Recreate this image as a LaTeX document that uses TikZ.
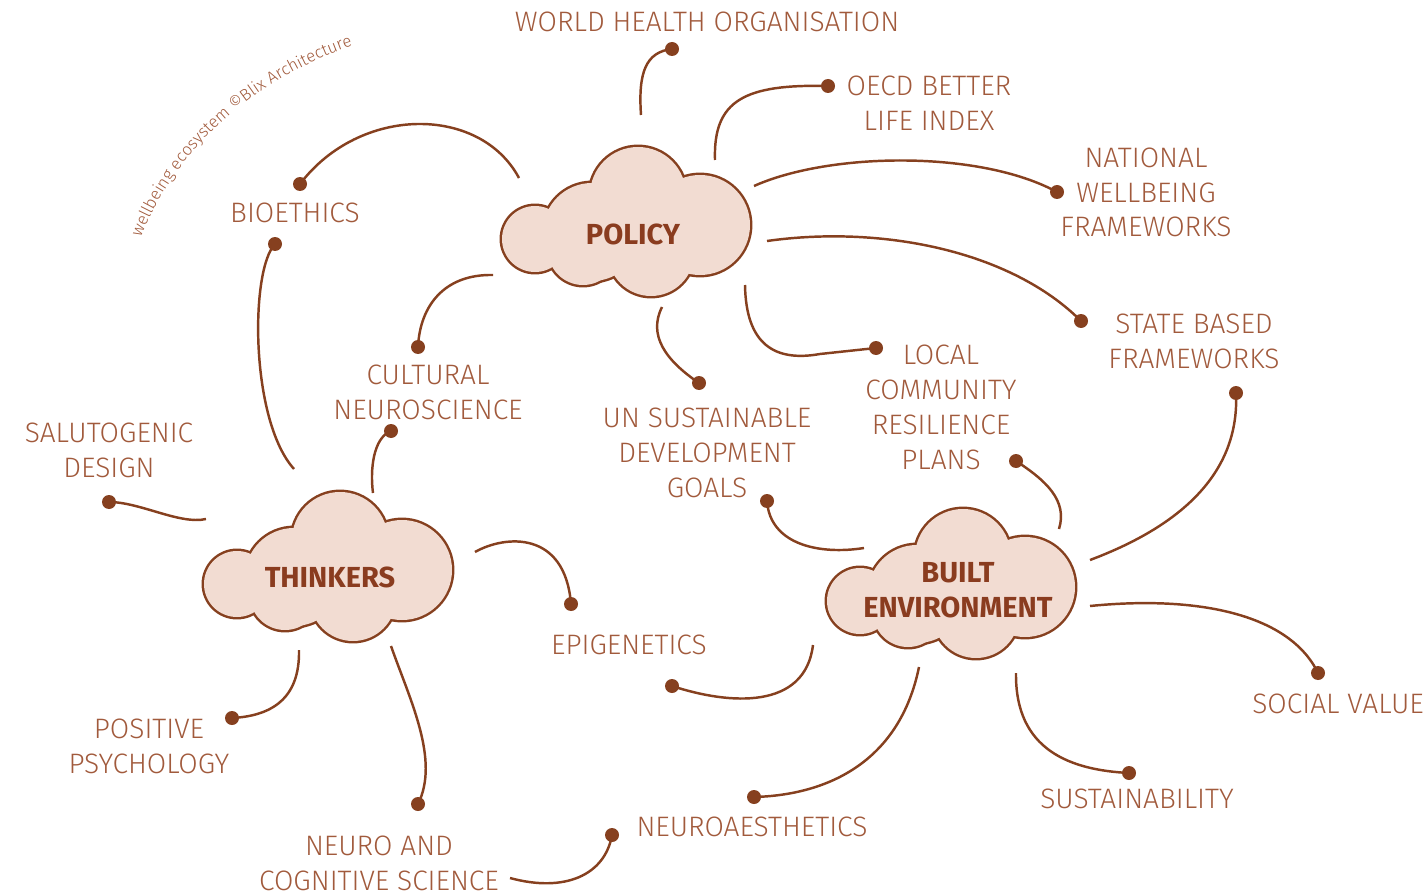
\documentclass[tikz,border=0pt]{standalone}
\usepackage{fontspec}
\usetikzlibrary{decorations.text}
\IfFontExistsTF{Fira Sans Light}{\setmainfont{Fira Sans Light}}{\setmainfont{Fira Sans}[FakeStretch=0.9]}
\newfontfamily\headfont{Fira Sans}
\definecolor{ink}{HTML}{86401F}
\definecolor{txt}{HTML}{A15A3C}
\definecolor{headc}{HTML}{8A3C1F}
\definecolor{cloudfill}{HTML}{F2DCD2}
\tikzset{
  cloud/.pic={
    \foreach \cx/\cy/\r in {33/92/33, 90/85/49, 136/48/48, 198/78/50, 149/106/43, 81/103/35}
      \draw[ink, line width=2.8pt] (\cx,\cy) circle[radius=\r];
    \foreach \cx/\cy/\r in {33/92/33, 90/85/49, 136/48/48, 198/78/50, 149/106/43, 81/103/35}
      \fill[cloudfill] (\cx,\cy) circle[radius=\r];
    \fill[cloudfill] (40,85) rectangle (200,120);
  }
}
\begin{document}
\begin{tikzpicture}[x=0.02cm, y=-0.02cm,
  conn/.style={draw=ink, line width=1.4pt},
  dot/.style={circle, fill=ink, inner sep=0pt, minimum size=0.28cm},
  lbl/.style={text=txt, font=\fontsize{16}{19.8}\selectfont, align=center, inner sep=0pt},
  headlbl/.style={text=headc, font=\headfont\bfseries\fontsize{16.5}{19.8}\selectfont, align=center, inner sep=0pt}]
\useasboundingbox (0,0) rectangle (1426,895);

% clouds
\pic at (502,147) {cloud};
\pic at (204,492) {cloud};
\pic at (827,509) {cloud};
\node[headlbl] (policy) at (633,234) {POLICY};
\node[headlbl] (thinkers) at (330,577) {THINKERS};
\node[headlbl] (built) at (958,590) {BUILT\\ENVIRONMENT};

% labels
\node[lbl] (who) at (707,22) {WORLD HEALTH ORGANISATION};
\node[lbl] (oecd) at (929,103.5) {OECD BETTER\\LIFE INDEX};
\node[lbl] (nwf) at (1146,192.5) {NATIONAL\\WELLBEING\\FRAMEWORKS};
\node[lbl] (sbf) at (1194,341) {STATE BASED\\FRAMEWORKS};
\node[lbl] (lcrp) at (941,407.5) {LOCAL\\COMMUNITY\\RESILIENCE\\PLANS};
\node[lbl] (unsdg) at (707,453) {UN SUSTAINABLE\\DEVELOPMENT\\GOALS};
\node[lbl] (cn) at (428,392.5) {CULTURAL\\NEUROSCIENCE};
\node[lbl] (bio) at (295,213) {BIOETHICS};
\node[lbl] (salu) at (109,450.5) {SALUTOGENIC\\DESIGN};
\node[lbl] (epi) at (629,645) {EPIGENETICS};
\node[lbl] (pos) at (149,746.5) {POSITIVE\\PSYCHOLOGY};
\node[lbl] (ncs) at (379,863.5) {NEURO AND\\COGNITIVE SCIENCE};
\node[lbl] (nae) at (752,827) {NEUROAESTHETICS};
\node[lbl] (sust) at (1137,799) {SUSTAINABILITY};
\node[lbl] (social) at (1338,704) {SOCIAL VALUE};

% curved credit
\path[decorate, decoration={text along path, text align=center,
  text={|\fontsize{9.5}{11}\selectfont\color{txt}|wellbeing ecosystem ©Blix Architecture}}]
  (140,240) .. controls (175.6,145.4) and (259.2,76.9) .. (355,45);

% free ends
\coordinate (f-who) at (641,115);
\coordinate (f-oecd) at (715,160);
\coordinate (f-nwf) at (754,186);
\coordinate (f-sbf) at (767,241);
\coordinate (f-lc) at (745,285);
\coordinate (f-un) at (662,307);
\coordinate (f-cn) at (493,275);
\coordinate (f-bio) at (519,178);
\coordinate (f-biolow) at (294,469);
\coordinate (f-cnlow) at (373,493);
\coordinate (f-salu) at (206,519);
\coordinate (f-epi) at (475,552);
\coordinate (f-pos) at (299,650);
\coordinate (f-ncs) at (391,646);
\coordinate (f-ncs2) at (510,878);
\coordinate (f-nae) at (919,667);
\coordinate (f-epilow) at (813,645);
\coordinate (f-unlow) at (864,548);
\coordinate (f-lclow) at (1059,529);
\coordinate (f-sbflow) at (1090,560);
\coordinate (f-social) at (1090,606);
\coordinate (f-sust) at (1016,673);

% dots
\node[dot] (d-who) at (672,49) {};
\node[dot] (d-oecd) at (828,86) {};
\node[dot] (d-nwf) at (1057,192) {};
\node[dot] (d-sbf) at (1081,321) {};
\node[dot] (d-lc) at (876,348) {};
\node[dot] (d-un) at (699,383) {};
\node[dot] (d-cn) at (418,347) {};
\node[dot] (d-bio) at (300,184) {};
\node[dot] (d-biolow) at (275,244) {};
\node[dot] (d-cnlow) at (391,431) {};
\node[dot] (d-salu) at (109,502) {};
\node[dot] (d-epi) at (571,604) {};
\node[dot] (d-pos) at (232,718) {};
\node[dot] (d-ncs) at (418,804) {};
\node[dot] (d-ncs2) at (612,835) {};
\node[dot] (d-nae) at (754,797) {};
\node[dot] (d-epilow) at (672,686) {};
\node[dot] (d-unlow) at (767,501) {};
\node[dot] (d-lclow) at (1016,461) {};
\node[dot] (d-sbflow) at (1236,393) {};
\node[dot] (d-social) at (1318,673) {};
\node[dot] (d-sust) at (1129,773) {};

% connectors
\draw[conn] (f-who) .. controls (638,72) and (646,52) .. (d-who.center);
\draw[conn] (f-oecd) .. controls (713,100) and (745,84) .. (d-oecd.center);
\draw[conn] (f-nwf) .. controls (830,152) and (980,150) .. (d-nwf.center);
\draw[conn] (f-sbf) .. controls (880,225) and (1010,250) .. (d-sbf.center);
\draw[conn] (f-lc) .. controls (746,345) and (775,362) .. (820,354) -- (d-lc.center);
\draw[conn] (f-un) .. controls (648,335) and (665,360) .. (d-un.center);
\draw[conn] (f-cn) .. controls (445,274) and (420,305) .. (d-cn.center);
\draw[conn] (f-bio) .. controls (480,105) and (360,105) .. (d-bio.center);
\draw[conn] (d-biolow.center) .. controls (250,270) and (250,420) .. (f-biolow);
\draw[conn] (d-cnlow.center) .. controls (373,438) and (370,470) .. (f-cnlow);
\draw[conn] (d-salu.center) .. controls (140,502) and (180,525) .. (f-salu);
\draw[conn] (f-epi) .. controls (505,535) and (565,530) .. (d-epi.center);
\draw[conn] (f-pos) .. controls (300,700) and (270,716) .. (d-pos.center);
\draw[conn] (f-ncs) .. controls (410,700) and (440,760) .. (d-ncs.center);
\draw[conn] (f-ncs2) .. controls (565,893) and (605,875) .. (d-ncs2.center);
\draw[conn] (f-nae) .. controls (900,760) and (830,795) .. (d-nae.center);
\draw[conn] (f-epilow) .. controls (805,710) and (730,705) .. (d-epilow.center);
\draw[conn] (d-unlow.center) .. controls (770,545) and (820,555) .. (f-unlow);
\draw[conn] (d-lclow.center) .. controls (1045,480) and (1068,500) .. (f-lclow);
\draw[conn] (d-sbflow.center) .. controls (1240,480) and (1170,530) .. (f-sbflow);
\draw[conn] (f-social) .. controls (1200,595) and (1290,615) .. (d-social.center);
\draw[conn] (f-sust) .. controls (1015,750) and (1070,770) .. (d-sust.center);
\end{tikzpicture}
\end{document}
